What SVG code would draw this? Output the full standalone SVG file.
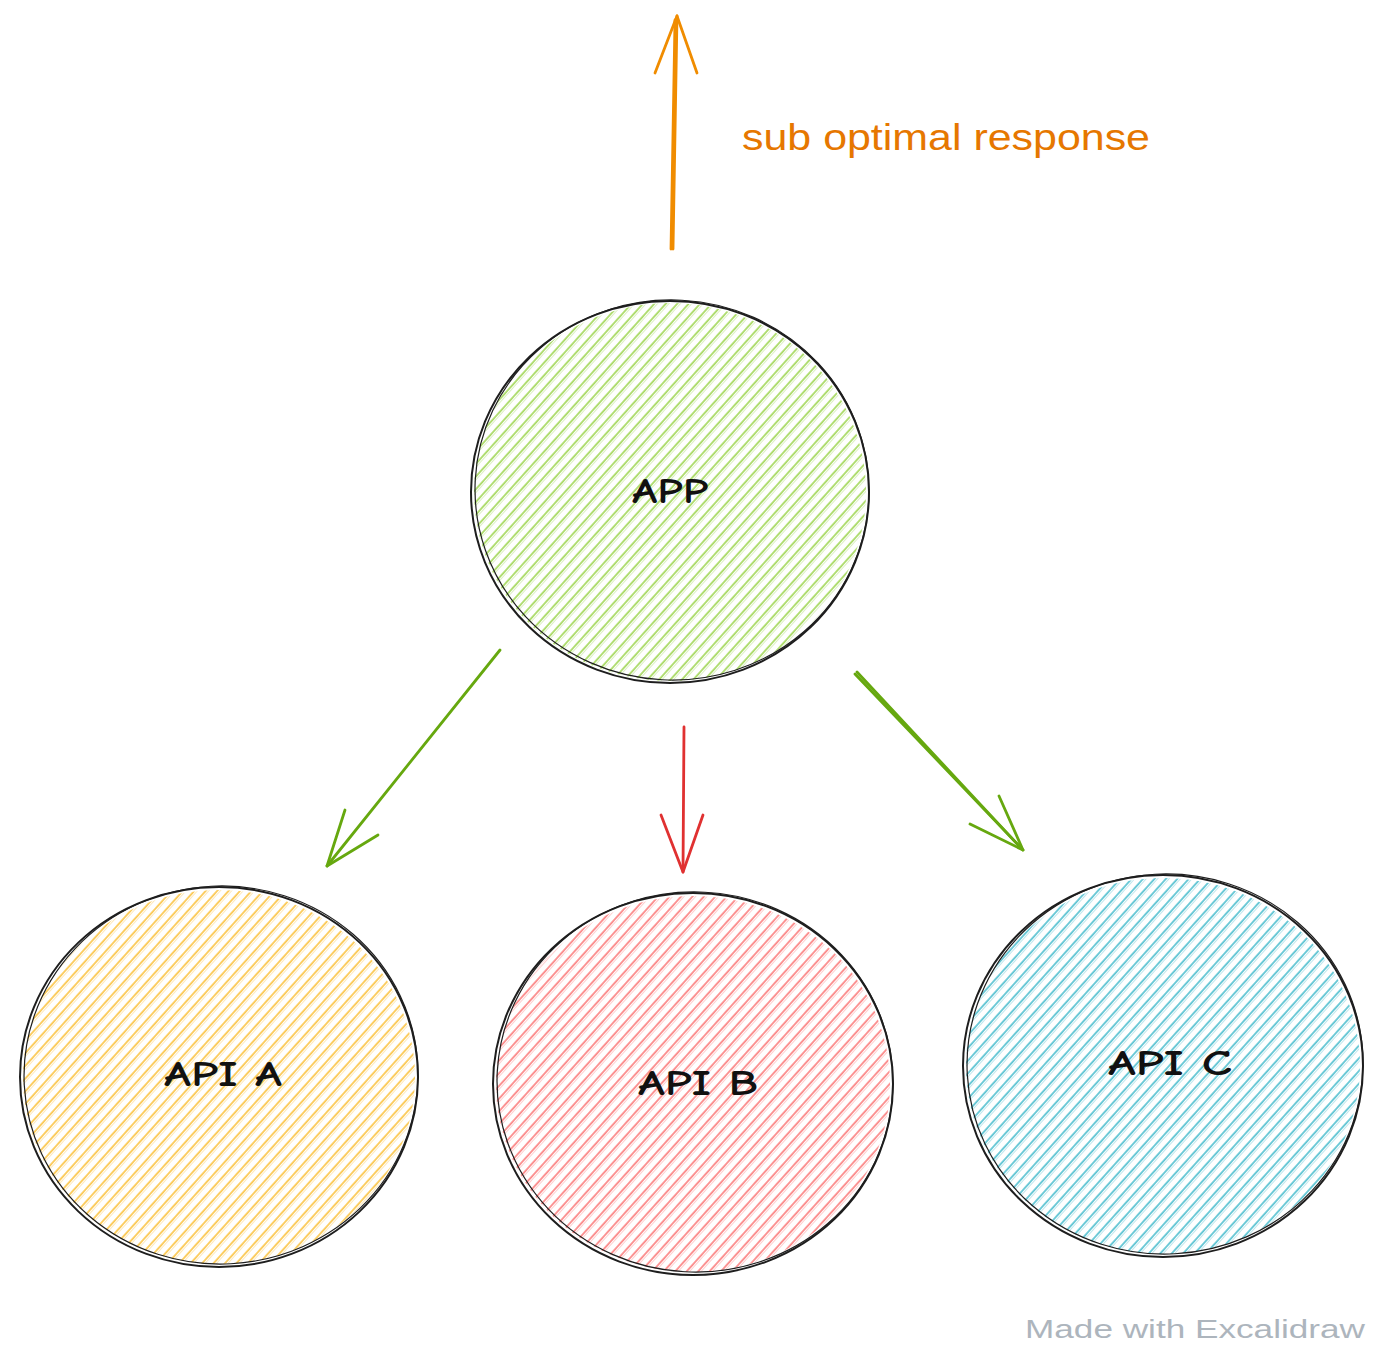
<svg xmlns="http://www.w3.org/2000/svg" width="1383" height="1350" viewBox="0 0 1383 1350">
<style>
.outline{fill:none;stroke:#1e1e1e;stroke-width:2;stroke-linecap:round}
.outline2{fill:none;stroke:#1e1e1e;stroke-width:1.2}
.label{font-family:"Comic Neue","Liberation Sans",sans-serif;font-size:36px;font-weight:bold;fill:#111;text-anchor:middle}
.note{font-family:"Liberation Sans",sans-serif;font-size:36px;fill:#e67700}
.wm{font-family:"Liberation Sans",sans-serif;font-size:26px;fill:#adb5bd}
.arr{fill:none;stroke-width:2.8;stroke-linecap:round;stroke-linejoin:round}
</style>
<defs>
<pattern id="hG" width="8.5" height="8.5" patternUnits="userSpaceOnUse" patternTransform="rotate(42)"><line x1="1" y1="0" x2="1" y2="8.5" stroke="#82c91e" stroke-width="1.2"/><line x1="3.2" y1="0" x2="3.2" y2="8.5" stroke="#82c91e" stroke-width="0.6" opacity="0.5"/></pattern>
<pattern id="hO" width="8.5" height="8.5" patternUnits="userSpaceOnUse" patternTransform="rotate(42)"><line x1="1" y1="0" x2="1" y2="8.5" stroke="#fab005" stroke-width="1.2"/><line x1="3.2" y1="0" x2="3.2" y2="8.5" stroke="#fab005" stroke-width="0.6" opacity="0.5"/></pattern>
<pattern id="hR" width="8.5" height="8.5" patternUnits="userSpaceOnUse" patternTransform="rotate(42)"><line x1="1" y1="0" x2="1" y2="8.5" stroke="#fa5252" stroke-width="1.2"/><line x1="3.2" y1="0" x2="3.2" y2="8.5" stroke="#fa5252" stroke-width="0.6" opacity="0.5"/></pattern>
<pattern id="hC" width="8.5" height="8.5" patternUnits="userSpaceOnUse" patternTransform="rotate(42)"><line x1="1" y1="0" x2="1" y2="8.5" stroke="#15aabf" stroke-width="1.2"/><line x1="3.2" y1="0" x2="3.2" y2="8.5" stroke="#15aabf" stroke-width="0.6" opacity="0.5"/></pattern>
</defs>
<rect width="1383" height="1350" fill="#ffffff"/>

<g id="app">
<ellipse cx="670" cy="492" rx="196" ry="189" fill="url(#hG)"/>
<ellipse class="outline" cx="670" cy="492" rx="199" ry="191"/>
<ellipse class="outline2" cx="672" cy="490" rx="197" ry="190" transform="rotate(3 672 490)"/>
<text class="label" x="670" y="503" textLength="76" lengthAdjust="spacingAndGlyphs">APP</text>
</g>

<g id="api-a">
<ellipse cx="219" cy="1077" rx="196" ry="187" fill="url(#hO)"/>
<ellipse class="outline" cx="219" cy="1077" rx="199" ry="190"/>
<ellipse class="outline2" cx="221" cy="1075" rx="197" ry="189" transform="rotate(-3 221 1075)"/>
<text class="label" x="223" y="1086" textLength="118" lengthAdjust="spacingAndGlyphs">API A</text>
</g>

<g id="api-b">
<ellipse cx="693" cy="1084" rx="197" ry="188" fill="url(#hR)"/>
<ellipse class="outline" cx="693" cy="1084" rx="200" ry="191"/>
<ellipse class="outline2" cx="695" cy="1082" rx="198" ry="190" transform="rotate(3 695 1082)"/>
<text class="label" x="698" y="1095" textLength="120" lengthAdjust="spacingAndGlyphs">API B</text>
</g>

<g id="api-c">
<ellipse cx="1163" cy="1066" rx="197" ry="188" fill="url(#hC)"/>
<ellipse class="outline" cx="1163" cy="1066" rx="200" ry="191"/>
<ellipse class="outline2" cx="1165" cy="1064" rx="198" ry="190" transform="rotate(-3 1165 1064)"/>
<text class="label" x="1170" y="1075" textLength="124" lengthAdjust="spacingAndGlyphs">API C</text>
</g>

<g id="connectors">
<g stroke="#f08c00" class="arr">
<path d="M673 249 L677 16"/>
<path d="M671 249 L675 20"/>
<path d="M677 16 L655 73 M677 16 L697 73"/>
</g>
<g stroke="#66a80f" class="arr">
<path d="M500 650 L327 866"/>
<path d="M327 866 L345 810 M327 866 L378 835"/>
</g>
<g stroke="#e03131" class="arr">
<path d="M684 727 L683 872"/>
<path d="M683 872 L661 815 M683 872 L703 815"/>
</g>
<g stroke="#66a80f" class="arr">
<path d="M855 674 L1023 850"/>
<path d="M857 672 L1021 848"/>
<path d="M1023 850 L999 796 M1023 850 L970 824"/>
</g>
</g>

<text class="note" x="742" y="150" textLength="408" lengthAdjust="spacingAndGlyphs">sub optimal response</text>
<text class="wm" x="1025" y="1338" textLength="340" lengthAdjust="spacingAndGlyphs">Made with Excalidraw</text>
</svg>
